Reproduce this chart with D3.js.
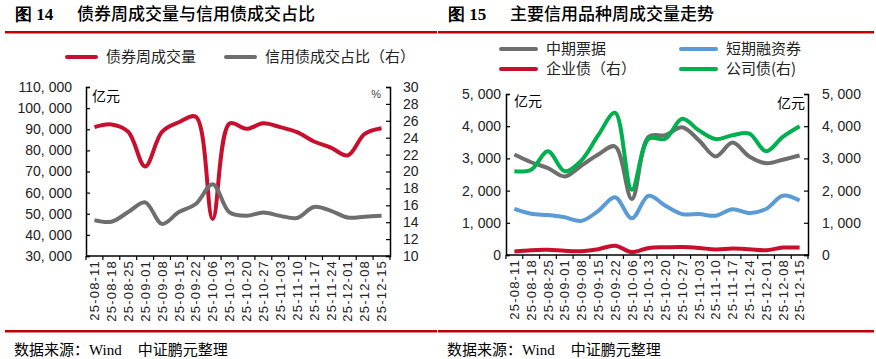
<!DOCTYPE html>
<html lang="zh">
<head>
<meta charset="UTF-8">
<title>债券周成交量与信用债成交占比</title>
<script src="https://cdnjs.cloudflare.com/ajax/libs/d3/7.8.5/d3.min.js"></script>
<style>
    body { margin: 0; background: #fff; }
    svg { display: block; }
    .cjk { font-family: "Noto Sans CJK SC", sans-serif; }
    .num { font-family: "Liberation Sans", Arial, sans-serif; }
</style>
</head>
<body>
<svg id="chart" width="876" height="359"></svg>
<script>
// x axis dates (shared by both charts)
const dates = ["25-08-11","25-08-18","25-08-25","25-09-01","25-09-08","25-09-15","25-09-22",
    "25-10-06","25-10-13","25-10-20","25-10-27","25-11-03","25-11-10","25-11-17",
    "25-11-24","25-12-01","25-12-08","25-12-15"];

// fig 14
const bondVolume = [91000, 92300, 88800, 72400, 88800, 93300, 95900, 47500, 92700,
    90200, 92800, 91000, 88600, 84200, 81300, 77600, 87800, 90500];
const creditShare = [14.25, 14.05, 15.2, 16.35, 13.8, 15.2, 16.15, 18.5, 15.15,
    14.75, 15.15, 14.75, 14.5, 15.8, 15.35, 14.55, 14.65, 14.75];
const leftTicks14 = [30000, 40000, 50000, 60000, 70000, 80000, 90000, 100000, 110000];
const rightTicks14 = [10, 12, 14, 16, 18, 20, 22, 24, 26, 28, 30];

// fig 15
const mtn = [3120, 2880, 2700, 2440, 2780, 3120, 3370, 1740, 3670, 3720, 3970, 3560,
    3060, 3490, 3060, 2850, 2960, 3090];
const cp = [1430, 1280, 1240, 1170, 1060, 1370, 1790, 1140, 1840, 1530, 1270, 1270,
    1220, 1420, 1300, 1430, 1840, 1690];
const enterprise = [110, 150, 160, 130, 120, 180, 290, 90, 220, 240, 250, 220,
    170, 200, 180, 150, 230, 230];
const corporate = [2600, 2650, 3220, 2600, 2940, 3720, 4420, 2030, 3610, 3610, 4230,
    3870, 3600, 3720, 3770, 3220, 3670, 4000];
const ticks15 = [0, 1000, 2000, 3000, 4000, 5000];

const RED = "#c8102e", GRAY = "#6e6e6e", BLUE = "#5b9bd5", GREEN = "#00b04f";

const svg = d3.select("#chart");
const fmt = v => d3.format(",")(v).replace(",", ", ");

function header(x0, x1, num, title) {
    svg.append("text").attr("x", x0 + 10).attr("y", 20)
        .attr("font-family", "'Liberation Serif', serif").attr("font-weight", "bold")
        .attr("font-size", 17).text("图 " + num);
    svg.append("text").attr("class", "cjk").attr("x", x0 + 72).attr("y", 20)
        .attr("font-size", 17).attr("font-weight", 500).text(title);
    svg.append("rect").attr("x", x0).attr("y", 31).attr("width", x1 - x0).attr("height", 2.5).attr("fill", "#c00000");
    svg.append("rect").attr("x", x0).attr("y", 330).attr("width", x1 - x0).attr("height", 2.5).attr("fill", "#c00000");
    const src = svg.append("text").attr("x", x0 + 9).attr("y", 355).attr("font-size", 15);
    src.append("tspan").attr("class", "cjk").text("数据来源：");
    src.append("tspan").attr("font-family", "'Liberation Serif', serif").text("Wind");
    src.append("tspan").attr("class", "cjk").attr("dx", 16).text("中证鹏元整理");
}

function legendItem(x, y, color, label, len) {
    svg.append("line").attr("x1", x).attr("x2", x + len).attr("y1", y).attr("y2", y)
        .attr("stroke", color).attr("stroke-width", 4).attr("stroke-linecap", "round");
    svg.append("text").attr("class", "cjk").attr("x", x + len + 10).attr("y", y + 5)
        .attr("font-size", 15).attr("fill", "#222").text(label);
}

function xAxis(x, y0) {
    const g = svg.append("g").attr("transform", `translate(0,${y0})`);
    g.append("line").attr("x1", x.range()[0]).attr("x2", x.range()[1])
        .attr("stroke", "#000").attr("stroke-width", 1.5);
    const bounds = d3.range(dates.length + 1).map(i => x.range()[0] + i * x.step());
    g.selectAll("line.tk").data(bounds).join("line").attr("class", "tk")
        .attr("x1", d => d).attr("x2", d => d).attr("y1", 0).attr("y2", 4)
        .attr("stroke", "#000").attr("stroke-width", 1.2);
    g.selectAll("text").data(dates).join("text").attr("class", "num")
        .attr("transform", d => `translate(${x(d) + x.bandwidth() / 2},4) rotate(-90)`)
        .attr("text-anchor", "end").attr("dy", "0.36em")
        .attr("font-size", 13).attr("letter-spacing", 1.2).attr("fill", "#222").text(d => d);
}

function yAxis(gen, x0, pad) {
    const g = svg.append("g").attr("transform", `translate(${x0},0)`).call(gen.tickSize(-4).tickPadding(pad));
    g.select(".domain").attr("stroke", "#000").attr("stroke-width", 1.5);
    g.selectAll(".tick line").attr("stroke", "#000").attr("stroke-width", 1.2);
    g.selectAll(".tick text").attr("font-family", "'Liberation Sans', Arial, sans-serif")
        .attr("font-size", 14).attr("fill", "#222");
    return g;
}

function series(x, y, values, color) {
    const line = d3.line()
        .x((d, i) => x(dates[i]) + x.bandwidth() / 2)
        .y(d => y(d))
        .curve(d3.curveCatmullRom);
    svg.append("path").attr("d", line(values)).attr("fill", "none")
        .attr("stroke", color).attr("stroke-width", 4).attr("stroke-linejoin", "round");
}

// ---- Figure 14 ----
header(5, 437, "14", "债券周成交量与信用债成交占比");
legendItem(67, 57, RED, "债券周成交量", 29);
legendItem(226, 57, GRAY, "信用债成交占比（右）", 29);

const x14 = d3.scaleBand().domain(dates).range([86, 390]);
const yL14 = d3.scaleLinear().domain([30000, 110000]).range([256, 87]);
const yR14 = d3.scaleLinear().domain([10, 30]).range([256, 87]);

yAxis(d3.axisLeft(yL14).tickValues(leftTicks14).tickFormat(fmt), 86, 14);
yAxis(d3.axisRight(yR14).tickValues(rightTicks14), 390, 13);
xAxis(x14, 256);
series(x14, yL14, bondVolume, RED);
series(x14, yR14, creditShare, GRAY);
svg.append("text").attr("class", "cjk").attr("x", 92).attr("y", 101).attr("font-size", 14).text("亿元");
svg.append("text").attr("class", "num").attr("x", 381).attr("y", 98).attr("font-size", 11)
    .attr("text-anchor", "end").attr("fill", "#444").text("%");

// ---- Figure 15 ----
header(438, 874, "15", "主要信用品种周成交量走势");
legendItem(501, 49, GRAY, "中期票据", 35);
legendItem(681, 49, BLUE, "短期融资券", 35);
legendItem(501, 69, RED, "企业债（右）", 35);
legendItem(681, 69, GREEN, "公司债(右)", 35);

const x15 = d3.scaleBand().domain(dates).range([506, 808]);
const yL15 = d3.scaleLinear().domain([0, 5000]).range([255, 94]);
const yR15 = d3.scaleLinear().domain([0, 5000]).range([255, 94]);

yAxis(d3.axisLeft(yL15).tickValues(ticks15).tickFormat(fmt), 506, 5);
yAxis(d3.axisRight(yR15).tickValues(ticks15).tickFormat(fmt), 808, 14);
xAxis(x15, 255);
series(x15, yL15, mtn, GRAY);
series(x15, yL15, cp, BLUE);
series(x15, yR15, enterprise, RED);
series(x15, yR15, corporate, GREEN);
svg.append("text").attr("class", "cjk").attr("x", 514).attr("y", 106).attr("font-size", 14).text("亿元");
svg.append("text").attr("class", "cjk").attr("x", 805).attr("y", 108).attr("font-size", 14)
    .attr("text-anchor", "end").text("亿元");
</script>
</body>
</html>
